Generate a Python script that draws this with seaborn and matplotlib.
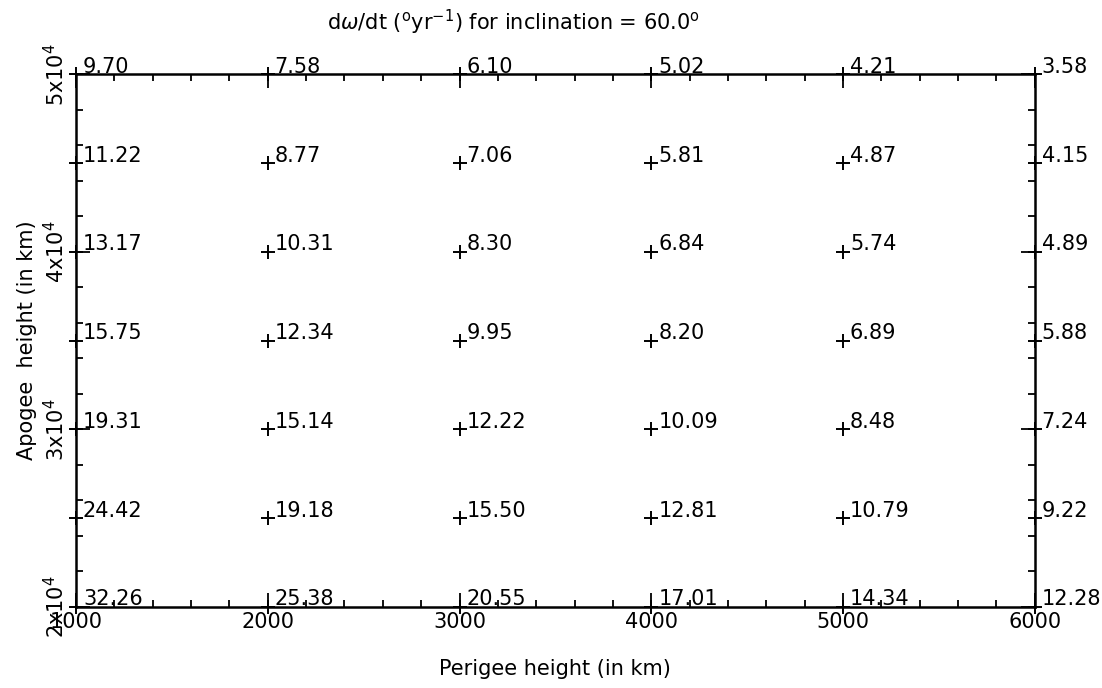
import numpy as np
import pandas as pd
import seaborn as sns
import matplotlib
matplotlib.use("Agg")
import matplotlib.pyplot as plt
import matplotlib.ticker as ticker

# data
perigee = [1000, 2000, 3000, 4000, 5000, 6000]
apogee = [50000, 45000, 40000, 35000, 30000, 25000, 20000]
rates = [
    [9.70, 7.58, 6.10, 5.02, 4.21, 3.58],
    [11.22, 8.77, 7.06, 5.81, 4.87, 4.15],
    [13.17, 10.31, 8.30, 6.84, 5.74, 4.89],
    [15.75, 12.34, 9.95, 8.20, 6.89, 5.88],
    [19.31, 15.14, 12.22, 10.09, 8.48, 7.24],
    [24.42, 19.18, 15.50, 12.81, 10.79, 9.22],
    [32.26, 25.38, 20.55, 17.01, 14.34, 12.28],
]
ytick_vals = [20000, 30000, 40000, 50000]
ytick_labels = ["2x10$^4$", "3x10$^4$", "4x10$^4$", "5x10$^4$"]


def main():
    rows = []
    for i, ap in enumerate(apogee):
        for j, pe in enumerate(perigee):
            rows.append({"perigee": pe, "apogee": ap, "rate": rates[i][j]})
    df = pd.DataFrame(rows)

    sns.set_style("ticks")
    plt.rcParams["font.family"] = ["DejaVu Sans"]
    plt.rcParams["mathtext.fontset"] = "dejavusans"
    for k in ["text.color", "axes.labelcolor", "xtick.color", "ytick.color",
              "xtick.labelcolor", "ytick.labelcolor"]:
        plt.rcParams[k] = "black"

    fig = plt.figure(figsize=(11.02, 6.88), dpi=100)
    ax = fig.add_axes([0.069, 0.118, 0.870, 0.774])

    sns.scatterplot(data=df, x="perigee", y="apogee", marker="+", s=110,
                    color="black", linewidth=1.4, ax=ax, clip_on=False, zorder=3)

    for _, r in df.iterrows():
        ax.annotate(f"{r['rate']:.2f}", (r["perigee"], r["apogee"]),
                    xytext=(5, 1), textcoords="offset points",
                    ha="left", va="baseline", fontsize=15, color="black")

    ax.set_xlim(1000, 6000)
    ax.set_ylim(20000, 50000)
    ax.xaxis.set_major_locator(ticker.MultipleLocator(1000))
    ax.xaxis.set_minor_locator(ticker.MultipleLocator(200))
    ax.set_yticks(ytick_vals)
    ax.set_yticklabels(ytick_labels, rotation=90, va="center")
    ax.yaxis.set_minor_locator(ticker.MultipleLocator(2000))
    ax.tick_params(which="both", direction="in", top=True, right=True,
                   color="black", width=1.3, labelsize=15)
    ax.tick_params(which="major", length=10)
    ax.tick_params(which="minor", length=5)
    ax.tick_params(axis="y", pad=6)
    for s in ax.spines.values():
        s.set_linewidth(1.8)
        s.set_color("black")

    ax.set_xlabel("Perigee height (in km)", fontsize=15, labelpad=20)
    ax.set_ylabel("Apogee  height (in km)", fontsize=15, labelpad=4)
    fig.text(0.466, 0.968, r"d$\omega$/dt ($^{\mathrm{o}}$yr$^{-1}$) for inclination = 60.0$^{\mathrm{o}}$",
             ha="center", va="center", fontsize=15)

    fig.savefig("out.png", dpi=100)


if __name__ == "__main__":
    main()
